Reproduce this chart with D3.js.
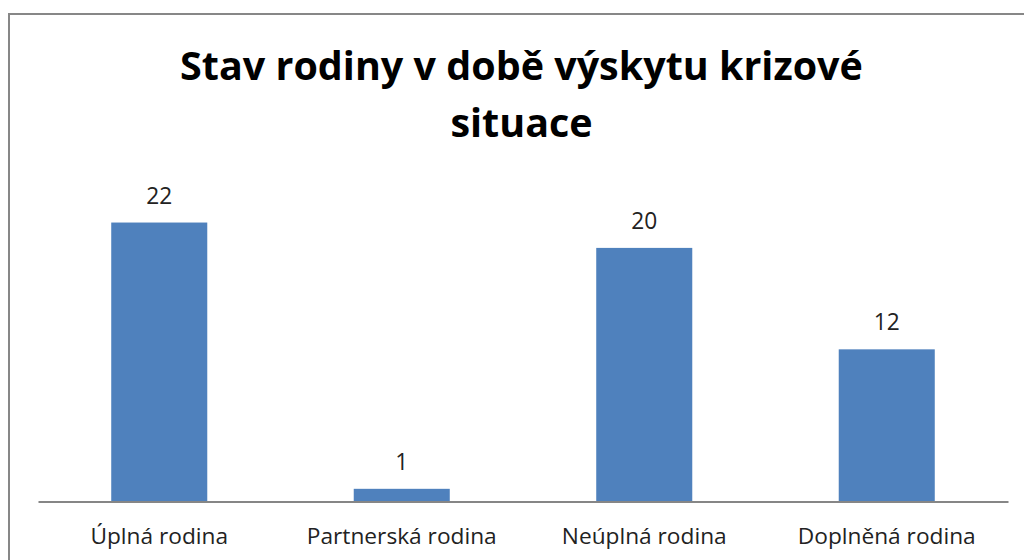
<!DOCTYPE html>
<html><head><meta charset="utf-8">
<script src="https://cdn.jsdelivr.net/npm/d3@7"></script>
<style>html,body{margin:0;padding:0;background:#fff;overflow:hidden}</style>
</head><body>
<svg id="c" width="1024" height="560"></svg>
<script>
const categories = ["Úplná rodina", "Partnerská rodina", "Neúplná rodina", "Doplněná rodina"];
const values = [22, 1, 20, 12];
const titleLines = ["Stav rodiny v době výskytu krizové", "situace"];

const svg = d3.select("#c");
const font = "'Open Sans', 'Noto Sans', sans-serif";

// chart border
svg.append("rect").attr("x", 9).attr("y", 14).attr("width", 1040).attr("height", 600)
  .attr("fill", "none").attr("stroke", "#878787").attr("stroke-width", 2);

const x = d3.scaleBand().domain(categories).range([38, 1008]).paddingInner(0.604).paddingOuter(0.302);
const y = d3.scaleLinear().domain([0, 25]).range([501.5, 184.5]);

svg.selectAll("rect.bar").data(values).join("rect").attr("class", "bar")
  .attr("x", (d, i) => x(categories[i])).attr("width", x.bandwidth())
  .attr("y", d => y(d)).attr("height", d => y(0) - y(d))
  .attr("fill", "#4F81BD");

// axis
const ax = svg.append("g").attr("transform", `translate(0,${y(0)})`)
  .call(d3.axisBottom(x).tickSize(0).tickPadding(0));
ax.select(".domain").attr("stroke", "#868686").attr("stroke-width", 2);
ax.selectAll("text").attr("font-family", font).attr("font-size", 20).attr("fill", "#222")
  .attr("dy", 0).attr("y", 42);
const t1 = ax.selectAll("text").filter(d => d === "Partnerská rodina");
const w1 = t1.node().getComputedTextLength();
ax.selectAll("text").attr("font-size", 20 * 190 / w1);

// value labels
const vl = svg.selectAll("text.val").data(values).join("text").attr("class", "val")
  .attr("x", (d, i) => x(categories[i]) + x.bandwidth() / 2)
  .attr("y", d => y(d) - 19)
  .attr("text-anchor", "middle").attr("font-family", font).attr("font-size", 22).attr("fill", "#222")
  .text(d => d);
const w22 = vl.filter(d => d === 22).node().getComputedTextLength();
vl.attr("font-size", 22 * 26 / w22);

// title
const tl = svg.selectAll("text.title").data(titleLines).join("text").attr("class", "title")
  .attr("x", 521.5).attr("y", (d, i) => 80 + i * 57)
  .attr("text-anchor", "middle").attr("font-family", font).attr("font-weight", "bold")
  .attr("font-size", 36).attr("fill", "#000").text(d => d);
const wt = tl.filter((d, i) => i === 0).node().getComputedTextLength();
tl.attr("font-size", 36 * 683 / wt);
</script>
</body></html>
